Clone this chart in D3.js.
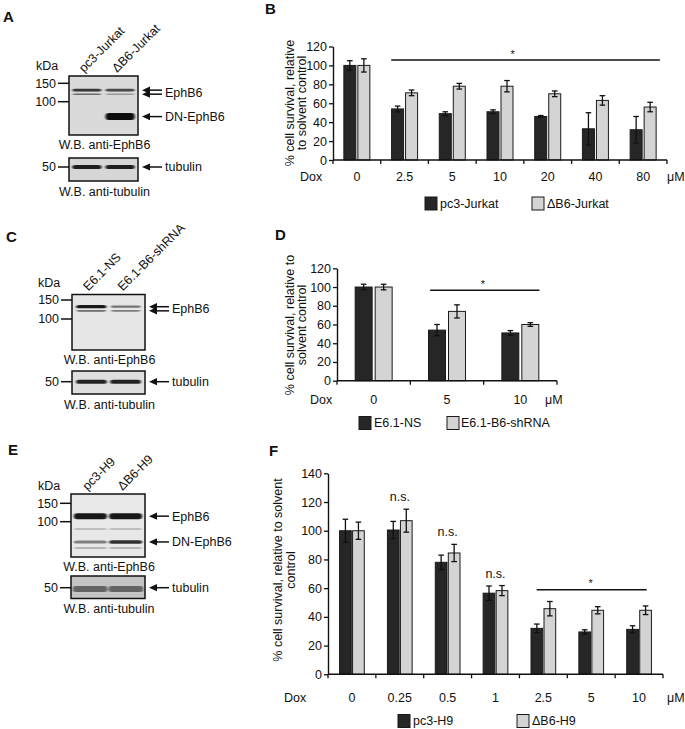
<!DOCTYPE html>
<html><head><meta charset="utf-8">
<script src="https://cdn.jsdelivr.net/npm/d3@7"></script>
<style>
body{margin:0;background:#fff}
svg{display:block}
text{font-family:"Liberation Sans",Arial,Helvetica,sans-serif;fill:#111}
</style>
</head><body>
<svg id="fig" width="685" height="729"></svg>
<script>
// ---------------- DATA ----------------
// Panel B
const doseB = ["0", "2.5", "5", "10", "20", "40", "80"];
const seriesB = ["pc3-Jurkat", "ΔB6-Jurkat"];
const pc3JurkatMean = [100, 54, 49, 51, 46, 33, 32];
const pc3JurkatErr  = [5, 3, 2, 2, 1, 17, 14];
const db6JurkatMean = [100, 71, 78, 78, 70, 63, 56];
const db6JurkatErr  = [7, 3, 3, 6, 3, 5, 5];
const ticksB = [0, 20, 40, 60, 80, 100, 120];

// Panel D
const doseD = ["0", "5", "10"];
const seriesD = ["E6.1-NS", "E6.1-B6-shRNA"];
const nsMean = [100, 54, 51];
const nsErr  = [3, 6, 2.5];
const shMean = [100, 74, 60];
const shErr  = [3, 7, 2];
const ticksD = [0, 20, 40, 60, 80, 100, 120];

// Panel F
const doseF = ["0", "0.25", "0.5", "1", "2.5", "5", "10"];
const seriesF = ["pc3-H9", "ΔB6-H9"];
const pc3H9Mean = [100, 100.5, 78, 56.5, 32, 29.5, 31.3];
const pc3H9Err  = [8, 6, 5, 5, 3, 1.5, 2.5];
const db6H9Mean = [100, 107, 84.5, 58.3, 45.7, 44.6, 44.6];
const db6H9Err  = [6, 8, 6, 3.5, 5, 2.5, 3];
const ticksF = [0, 20, 40, 60, 80, 100, 120, 140];
const nsDosesF = ["0.25", "0.5", "1"];

// Western blot lanes and bands (kDa positions, darkness 0..1)
const lanesA = ["pc3-Jurkat", "ΔB6-Jurkat"];
const bandsA = [
  {lane: 0, kda: 129, dark: 0.8, h: 2.6}, {lane: 1, kda: 129, dark: 0.72, h: 2.6},
  {lane: 0, kda: 118, dark: 0.5, h: 1.6}, {lane: 1, kda: 118, dark: 0.3, h: 1.4},
  {lane: 1, kda: 72, dark: 1.0, h: 7}
];
const tubA = [{lane: 0, kda: 50, dark: 0.92, h: 4}, {lane: 1, kda: 50, dark: 0.92, h: 4}];

const lanesC = ["E6.1-NS", "E6.1-B6-shRNA"];
const bandsC = [
  {lane: 0, kda: 130, dark: 0.95, h: 3.2}, {lane: 0, kda: 119, dark: 0.55, h: 1.6},
  {lane: 1, kda: 130, dark: 0.5, h: 2.2}, {lane: 1, kda: 119, dark: 0.45, h: 1.6}
];
const tubC = [{lane: 0, kda: 50, dark: 0.9, h: 4}, {lane: 1, kda: 50, dark: 0.9, h: 4}];

const lanesE = ["pc3-H9", "ΔB6-H9"];
const bandsE = [
  {lane: 0, kda: 113, dark: 0.95, h: 6}, {lane: 1, kda: 113, dark: 0.95, h: 6},
  {lane: 0, kda: 85, dark: 0.18, h: 2}, {lane: 1, kda: 85, dark: 0.18, h: 2},
  {lane: 0, kda: 64, dark: 0.45, h: 3}, {lane: 1, kda: 64, dark: 0.85, h: 3.5},
  {lane: 0, kda: 56, dark: 0.22, h: 2}, {lane: 1, kda: 56, dark: 0.22, h: 2}
];
const tubE = [{lane: 0, kda: 49, dark: 0.55, h: 6}, {lane: 1, kda: 49, dark: 0.55, h: 6}];

// ---------------- DRAWING ----------------
const svg = d3.select("#fig");
const defs = svg.append("defs");
defs.append("filter").attr("id", "blur").attr("x", "-20%").attr("y", "-200%").attr("width", "140%").attr("height", "500%")
  .append("feGaussianBlur").attr("stdDeviation", "0.8 0.6");

function panelLetter(t, x, y) {
  svg.append("text").attr("x", x).attr("y", y).attr("font-size", 15).attr("font-weight", "bold").text(t);
}
panelLetter("A", 3, 21.5);
panelLetter("B", 265, 14);
panelLetter("C", 6, 241.5);
panelLetter("D", 275, 240);
panelLetter("E", 8, 455);
panelLetter("F", 269, 456);

function arrowLeft(g, xTip, xEnd, y) {
  g.append("line").attr("x1", xTip + 6).attr("x2", xEnd).attr("y1", y).attr("y2", y)
    .attr("stroke", "#111").attr("stroke-width", 1.5);
  g.append("path").attr("d", `M${xTip},${y} L${xTip + 8},${y - 3.6} L${xTip + 8},${y + 3.6} Z`).attr("fill", "#111");
}

function blot(cfg) {
  const g = svg.append("g");
  const [bx0, by0, bx1, by1] = cfg.box;
  const y = d3.scaleLog().domain([cfg.m1[0], cfg.m2[0]]).range([cfg.m1[1], cfg.m2[1]]);
  const lane = d3.scaleBand().domain(d3.range(cfg.lanes.length)).range([bx0, bx1]).paddingInner(cfg.lanePadIn).paddingOuter(cfg.lanePadOut);
  const clipId = "clip" + cfg.id;
  defs.append("clipPath").attr("id", clipId).append("rect").attr("x", bx0).attr("y", by0).attr("width", bx1 - bx0).attr("height", by1 - by0);
  g.append("rect").attr("x", bx0).attr("y", by0).attr("width", bx1 - bx0).attr("height", by1 - by0).attr("fill", cfg.bg);
  const bg = g.append("g").attr("clip-path", `url(#${clipId})`);
  bg.selectAll("rect.band").data(cfg.bands).join("rect").attr("class", "band")
    .attr("x", d => lane(d.lane)).attr("width", lane.bandwidth())
    .attr("y", d => y(d.kda) - d.h / 2).attr("height", d => d.h)
    .attr("rx", 3).attr("ry", d => d.h / 2)
    .attr("fill", "#0c0c0c").attr("fill-opacity", d => d.dark)
    .attr("filter", "url(#blur)");
  g.append("rect").attr("x", bx0).attr("y", by0).attr("width", bx1 - bx0).attr("height", by1 - by0)
    .attr("fill", "none").attr("stroke", "#111").attr("stroke-width", 1.5);
  (cfg.markers || []).forEach(m => {
    g.append("line").attr("x1", bx0 - 11).attr("x2", bx0).attr("y1", y(m)).attr("y2", y(m)).attr("stroke", "#111").attr("stroke-width", 1.5);
    g.append("text").attr("x", bx0 - 13).attr("y", y(m)).attr("dy", "0.35em").attr("text-anchor", "end").attr("font-size", 12.5).text(m);
  });
  if (cfg.kdaLabel) g.append("text").attr("x", cfg.kdaLabel[0]).attr("y", cfg.kdaLabel[1]).attr("dy", "0.35em").attr("font-size", 12.5).text("kDa");
  (cfg.arrows || []).forEach(a => {
    a.kdas.forEach(k => arrowLeft(g, bx1 + 4, bx1 + 24, y(k)));
    const ym = d3.mean(a.kdas, k => y(k));
    g.append("text").attr("x", bx1 + 27).attr("y", ym).attr("dy", "0.35em").attr("font-size", 12.5).text(a.label);
  });
  if (cfg.caption) g.append("text").attr("x", (bx0 + bx1) / 2 + 1).attr("y", by1 + cfg.capGap).attr("dy", "0.35em")
    .attr("text-anchor", "middle").attr("font-size", 12.5).text(cfg.caption);
  if (cfg.laneLabels) {
    cfg.lanes.forEach((t, i) => {
      const lx = lane(i) + lane.bandwidth() / 2 - 3, ly = by0 - 3;
      g.append("text").attr("transform", `translate(${lx},${ly}) rotate(-45)`).attr("font-size", 12.5).text(t);
    });
  }
}

// Panel A
blot({id: "A1", box: [69, 76, 138, 135], m1: [150, 83.3], m2: [100, 101.7], lanes: lanesA, lanePadIn: 0.12, lanePadOut: 0.1,
  bands: bandsA, bg: "#dadada", markers: [150, 100], kdaLabel: [36, 66],
  arrows: [{kdas: [129, 118], label: "EphB6"}, {kdas: [72], label: "DN-EphB6"}],
  caption: "W.B. anti-EphB6", capGap: 10, laneLabels: true});
blot({id: "A2", box: [69, 158, 138, 181], m1: [50, 167], m2: [25, 200], lanes: lanesA, lanePadIn: 0.12, lanePadOut: 0.1,
  bands: tubA, bg: "#d6d6d6", markers: [50],
  arrows: [{kdas: [50], label: "tubulin"}], caption: "W.B. anti-tubulin", capGap: 11});

// Panel C
blot({id: "C1", box: [72, 294.5, 145, 350], m1: [150, 300], m2: [100, 319], lanes: lanesC, lanePadIn: 0.12, lanePadOut: 0.12,
  bands: bandsC, bg: "#e6e6e6", markers: [150, 100], kdaLabel: [38, 283],
  arrows: [{kdas: [130, 119], label: "EphB6"}],
  caption: "W.B. anti-EphB6", capGap: 9.5, laneLabels: true});
blot({id: "C2", box: [72, 371, 145, 394], m1: [50, 381.7], m2: [25, 420], lanes: lanesC, lanePadIn: 0.1, lanePadOut: 0.12,
  bands: tubC, bg: "#dedede", markers: [50],
  arrows: [{kdas: [50], label: "tubulin"}], caption: "W.B. anti-tubulin", capGap: 11});

// Panel E
blot({id: "E1", box: [71, 494, 145, 557], m1: [150, 503.3], m2: [100, 521.7], lanes: lanesE, lanePadIn: 0.06, lanePadOut: 0.08,
  bands: bandsE, bg: "#e8e8e8", markers: [150, 100], kdaLabel: [38, 486],
  arrows: [{kdas: [113], label: "EphB6"}, {kdas: [64], label: "DN-EphB6"}],
  caption: "W.B. anti-EphB6", capGap: 9.5, laneLabels: true});
blot({id: "E2", box: [71, 576, 145, 598.5], m1: [50, 587.7], m2: [25, 630], lanes: lanesE, lanePadIn: 0.03, lanePadOut: 0.05,
  bands: tubE, bg: "#c4c4c4", markers: [50],
  arrows: [{kdas: [50], label: "tubulin"}], caption: "W.B. anti-tubulin", capGap: 10});

// ---------------- BAR CHARTS ----------------
const DARK = "#262626", LIGHT = "#d4d4d4";

function barChart(c) {
  const g = svg.append("g");
  const y = d3.scaleLinear().domain([0, c.max]).range([c.yBase, c.yTop]);
  const x = d3.scaleBand().domain(c.cats).range([c.x0, c.x1]);
  const xs = d3.scaleBand().domain(c.series).range([0, x.bandwidth()]).paddingInner(c.pi).paddingOuter(c.po);
  const rows = [];
  c.cats.forEach((cat, i) => c.series.forEach((s, j) => rows.push({cat, s, j, v: c.means[j][i], e: c.errs[j][i]})));
  g.selectAll("rect.bar").data(rows).join("rect").attr("class", "bar")
    .attr("x", d => x(d.cat) + xs(d.s)).attr("width", xs.bandwidth())
    .attr("y", d => y(d.v)).attr("height", d => y(0) - y(d.v))
    .attr("fill", d => d.j === 0 ? DARK : LIGHT).attr("stroke", "#1a1a1a").attr("stroke-width", 1);
  const eb = g.selectAll("g.eb").data(rows).join("g").attr("class", "eb");
  const cx = d => x(d.cat) + xs(d.s) + xs.bandwidth() / 2;
  eb.append("line").attr("x1", cx).attr("x2", cx).attr("y1", d => y(d.v - d.e)).attr("y2", d => y(d.v + d.e))
    .attr("stroke", "#111").attr("stroke-width", 1.3);
  [1, -1].forEach(sg => eb.append("line").attr("x1", d => cx(d) - 2.8).attr("x2", d => cx(d) + 2.8)
    .attr("y1", d => y(d.v + sg * d.e)).attr("y2", d => y(d.v + sg * d.e)).attr("stroke", "#111").attr("stroke-width", 1.3));
  const ya = g.append("g").attr("transform", `translate(${c.x0},0)`)
    .call(d3.axisLeft(y).tickValues(c.ticks).tickSize(4).tickSizeOuter(0).tickPadding(2));
  ya.select(".domain").attr("stroke", "#111").attr("stroke-width", 1.4);
  ya.selectAll(".tick line").attr("stroke", "#111").attr("stroke-width", 1.3);
  ya.selectAll(".tick text").attr("font-size", 12.5).attr("fill", "#111").style("font-family", '"Liberation Sans",Arial,sans-serif');
  g.append("line").attr("x1", c.x0).attr("x2", c.x1).attr("y1", y(0)).attr("y2", y(0)).attr("stroke", "#111").attr("stroke-width", 1.5);
  const bounds = c.cats.map(d => x(d)).concat([c.x1]);
  g.selectAll("line.xt").data(bounds).join("line").attr("class", "xt")
    .attr("x1", d => d).attr("x2", d => d).attr("y1", y(0)).attr("y2", y(0) + 4).attr("stroke", "#111").attr("stroke-width", 1.3);
  g.selectAll("text.xl").data(c.cats).join("text").attr("class", "xl")
    .attr("x", d => x(d) + x.bandwidth() / 2).attr("y", c.labY).attr("dy", "0.35em")
    .attr("text-anchor", "middle").attr("font-size", 12.5).text(d => d);
  g.append("text").attr("x", c.doxX).attr("y", c.labY).attr("dy", "0.35em").attr("font-size", 12.5).text("Dox");
  g.append("text").attr("x", c.umX).attr("y", c.labY).attr("dy", "0.35em").attr("font-size", 12.5).text("μM");
  c.yLabel.forEach((t, i) => g.append("text").attr("transform", `translate(${c.yLabX[i]},${c.yLabCY}) rotate(-90)`)
    .attr("text-anchor", "middle").attr("dy", "0.35em").attr("font-size", 12.5).text(t));
  const sx1 = x(c.sig.from) + c.sig.f1 * x.bandwidth(), sx2 = x(c.sig.to) + c.sig.f2 * x.bandwidth();
  g.append("line").attr("x1", sx1).attr("x2", sx2).attr("y1", y(c.sig.v)).attr("y2", y(c.sig.v)).attr("stroke", "#111").attr("stroke-width", 1.4);
  g.append("text").attr("x", (sx1 + sx2) / 2 + c.sig.starDx).attr("y", y(c.sig.v) - 2.5).attr("text-anchor", "middle").attr("font-size", 11).text("*");
  (c.ns || []).forEach(cat => {
    const i = c.cats.indexOf(cat);
    const top = d3.max(c.series.map((s, j) => c.means[j][i] + c.errs[j][i]));
    g.append("text").attr("x", x(cat) + x.bandwidth() / 2).attr("y", y(top) - 8).attr("text-anchor", "middle").attr("font-size", 12.5).text("n.s.");
  });
  c.series.forEach((s, j) => {
    g.append("rect").attr("x", c.legX[j]).attr("y", c.legY).attr("width", 12).attr("height", 13)
      .attr("fill", j === 0 ? DARK : LIGHT).attr("stroke", "#1a1a1a").attr("stroke-width", 1);
    g.append("text").attr("x", c.legX[j] + c.legTx[j]).attr("y", c.legY + 6.5).attr("dy", "0.35em").attr("font-size", 12.5).text(s);
  });
}

barChart({cats: doseB, series: seriesB, means: [pc3JurkatMean, db6JurkatMean], errs: [pc3JurkatErr, db6JurkatErr],
  max: 120, ticks: ticksB, x0: 333, x1: 667, yBase: 160, yTop: 46.5, pi: 0.143, po: 0.776,
  labY: 176.7, doxX: 300, umX: 667,
  yLabel: ["% cell survival, relative", "to solvent control"], yLabX: [290, 302], yLabCY: 103,
  sig: {from: "2.5", to: "80", f1: 0.22, f2: 0.85, v: 105.7, starDx: -13},
  legX: [425, 532], legTx: [15, 15], legY: 197});

barChart({cats: doseD, series: seriesD, means: [nsMean, shMean], errs: [nsErr, shErr],
  max: 120, ticks: ticksD, x0: 337, x1: 557, yBase: 380.7, yTop: 268.3, pi: 0.15, po: 0.91,
  labY: 400, doxX: 310, umX: 545,
  yLabel: ["% cell survival, relative to", "solvent control"], yLabX: [290, 302], yLabCY: 325,
  sig: {from: "5", to: "10", f1: 0.27, f2: 0.76, v: 96.5, starDx: -2},
  legX: [359, 447], legTx: [15, 14], legY: 416.5});

barChart({cats: doseF, series: seriesF, means: [pc3H9Mean, db6H9Mean], errs: [pc3H9Err, db6H9Err],
  max: 140, ticks: ticksF, x0: 328, x1: 663, yBase: 674.3, yTop: 473.3, pi: 0.1, po: 0.89,
  labY: 697.3, doxX: 284, umX: 667,
  yLabel: ["% cell survival, relative to solvent", "control"], yLabX: [277.5, 291], yLabCY: 570,
  sig: {from: "2.5", to: "10", f1: 0.36, f2: 0.66, v: 58.9, starDx: -1},
  ns: nsDosesF,
  legX: [398, 517], legTx: [15, 15], legY: 714.5});
</script>
</body></html>
